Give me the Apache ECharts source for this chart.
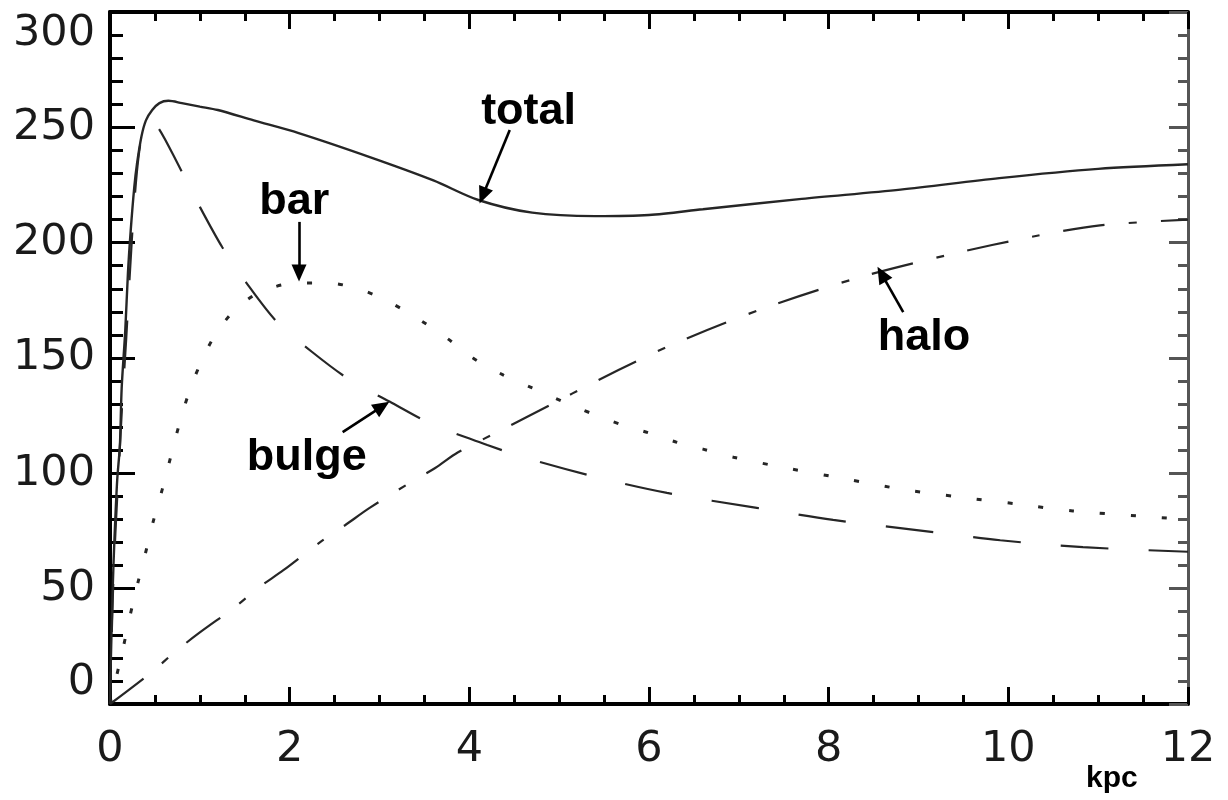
<!DOCTYPE html>
<html>
<head>
<meta charset="utf-8">
<script src="https://cdn.jsdelivr.net/npm/echarts@6/dist/echarts.min.js"></script>
<style>
  html, body { margin: 0; padding: 0; background: #fff; }
  #chart { width: 1228px; height: 800px; }
</style>
</head>
<body>
<div id="chart"></div>
<script>
// Rotation curve components: radius (kpc) and circular velocity (km/s)
const totalR = [0, 0.01, 0.03, 0.05, 0.08, 0.11, 0.13, 0.17, 0.2, 0.23, 0.27, 0.3, 0.35, 0.4, 0.47, 0.55, 0.65, 0.8, 1.0, 1.2, 1.6, 2.1, 2.9, 3.6, 4.1, 4.7, 5.4, 6.0, 6.6, 7.7, 8.8, 9.9, 11.0, 12];
const totalV = [0, 20, 50, 72, 97, 112, 137, 162, 187, 205, 224, 234, 246, 253, 257.5, 260.5, 261.5, 260.5, 259, 257.5, 253, 247.5, 237, 227, 218.5, 213, 211.5, 212, 214.5, 219, 223, 228, 232, 234];

const bulgeR = [0, 0.03, 0.06, 0.1, 0.14, 0.18, 0.22, 0.27, 0.32, 0.38, 0.45, 0.55, 0.75, 0.98, 1.25, 1.52, 1.86, 2.25, 2.67, 3.14, 3.6, 4.2, 4.6, 5.45, 6.2, 7.2, 8.05, 8.98, 9.91, 10.83, 12];
const bulgeV = [0, 45, 74, 104, 133, 158, 186, 217, 238, 250, 253, 249, 234.5, 217, 198, 182.5, 165.6, 152.6, 140.5, 130.5, 121, 112.3, 107, 98, 91.5, 85, 79.8, 75.4, 71, 68, 66];

const barR = [0, 0.15, 0.22, 0.31, 0.39, 0.48, 0.58, 0.67, 0.76, 0.87, 1.0, 1.17, 1.39, 1.67, 2.08, 2.43, 2.8, 3.12, 3.45, 3.75, 4.04, 4.38, 4.7, 5.2, 5.7, 6.0, 6.3, 6.6, 6.94, 7.57, 8.2, 8.83, 9.46, 10.1, 10.72, 12];
const barV = [0, 25, 37.7, 52.5, 64.6, 79, 92.8, 106.3, 119.7, 134, 147, 160, 170.8, 178.6, 182.5, 182.5, 179.5, 174, 166.5, 158.6, 150, 142.6, 137, 128.5, 121, 117.5, 113.6, 110.5, 107, 102, 97.5, 93, 89.7, 86.7, 83.7, 80];

const haloR = [0, 0.47, 0.72, 1.0, 1.39, 1.65, 1.93, 2.34, 2.62, 2.89, 3.3, 3.62, 3.87, 4.36, 4.64, 5.66, 6.33, 7.31, 8.32, 9.32, 10.32, 11.02, 12];
const haloV = [0, 14, 22.5, 31, 42, 50.3, 58, 70.2, 77.6, 85, 95, 102.3, 109, 118.8, 124.4, 144.8, 157, 172, 184.7, 194.6, 203, 207.5, 210];

// Axis ticks
const xTicks = [0, 2, 4, 6, 8, 10, 12];
const yTicks = [0, 50, 100, 150, 200, 250, 300];

// Component names written next to their curves
const componentNames = ['total', 'bar', 'halo', 'bulge'];

const pairs = (r, v) => r.map((x, i) => [x, v[i]]);

// Label anchors and arrows (tail -> head), in kpc / km s^-1
const notes = {
  total: { text: [4.66, 257], tail: [4.45, 248.8], head: [4.15, 220.4] },
  bar:   { text: [2.05, 218], tail: [2.104, 209], head: [2.104, 186.8] },
  halo:  { text: [9.06, 159], tail: [8.83, 169.9], head: [8.59, 186.4] },
  bulge: { text: [2.19, 107], tail: [2.59, 117.9], head: [3.03, 129.0] }
};

const AXIS_FONT = 'DejaVu Sans';
const NOTE_FONT = 'Liberation Sans';
const INK = '#000';
const CURVE = '#262626';

function xAxisCfg(position, showLabels) {
  return {
    type: 'value', position, min: xTicks[0], max: xTicks[xTicks.length - 1], interval: 2,
    axisLine: { show: true, onZero: false, lineStyle: { color: INK, width: 4 } },
    axisTick: { show: true, inside: true, length: 17, lineStyle: { color: INK, width: 3 } },
    minorTick: { show: true, splitNumber: 4, length: 9, lineStyle: { color: INK, width: 3 } },
    splitLine: { show: false }, minorSplitLine: { show: false },
    axisLabel: {
      show: showLabels, margin: 24, fontFamily: AXIS_FONT, fontSize: 43, color: '#1a1a1a',
      showMinLabel: true, showMaxLabel: true
    }
  };
}

function yAxisCfg(position, showLabels, color, major, minor, width) {
  return {
    type: 'value', position, min: yTicks[0], max: yTicks[yTicks.length - 1], interval: 50,
    axisLine: { show: true, onZero: false, lineStyle: { color, width } },
    axisTick: { show: true, inside: true, length: major, lineStyle: { color, width: 3 } },
    minorTick: { show: true, splitNumber: 5, length: minor, lineStyle: { color, width: 3 } },
    splitLine: { show: false }, minorSplitLine: { show: false },
    axisLabel: {
      show: showLabels, margin: 15, fontFamily: AXIS_FONT, fontSize: 43, color: '#1a1a1a',
      showMinLabel: true, showMaxLabel: true,
      verticalAlignMinLabel: 'bottom', verticalAlignMaxLabel: 'top'
    }
  };
}

function curve(name, r, v, dash, width, offset) {
  return {
    name, type: 'line', data: pairs(r, v), showSymbol: false, smooth: 0.3,
    lineStyle: { color: CURVE, width, type: dash, dashOffset: offset || 0 },
    silent: true, animation: false, z: 3
  };
}

const series = [
  curve('total', totalR, totalV, 'solid', 2.4),
  curve('bulge', bulgeR, bulgeV, [48, 40], 2.2, 16),
  curve('bar', barR, barV, [5, 26], 3),
  curve('halo', haloR, haloV, [42, 24, 8, 24], 2.2)
];

// Annotations: names and arrows drawn on the total curve's series
series[0].markLine = {
  silent: true, animation: false, precision: 3,
  symbol: ['none', 'triangle'], symbolSize: [15, 17],
  lineStyle: { color: INK, width: 2.6, type: 'solid' },
  label: { show: false },
  data: componentNames.map(n => [
    { coord: notes[n].tail, symbol: 'none' },
    { coord: notes[n].head, symbol: 'triangle' }
  ])
};
series[0].markPoint = {
  silent: true, animation: false,
  symbol: 'circle', symbolSize: 0, itemStyle: { color: 'transparent' },
  label: {
    show: true, position: 'inside', formatter: '{b}',
    fontFamily: NOTE_FONT, fontWeight: 'bold', fontSize: 45, color: INK
  },
  data: componentNames.map(n => ({ name: n, coord: notes[n].text }))
};

const chart = echarts.init(document.getElementById('chart'), null, { renderer: 'canvas' });
chart.setOption({
  animation: false,
  backgroundColor: '#fff',
  grid: { left: 110, right: 40, top: 12, bottom: 96, containLabel: false, outerBoundsMode: 'none' },
  xAxis: [xAxisCfg('bottom', true), xAxisCfg('top', false)],
  yAxis: [
    yAxisCfg('left', true, INK, 25, 13, 4),
    yAxisCfg('right', false, '#555', 19, 10, 3)
  ],
  graphic: [{
    type: 'text', x: 1086, y: 779,
    style: { text: 'kpc', fontFamily: NOTE_FONT, fontWeight: 'bold', fontSize: 30, fill: INK, align: 'left', verticalAlign: 'middle' }
  }],
  series
});
</script>
</body>
</html>
